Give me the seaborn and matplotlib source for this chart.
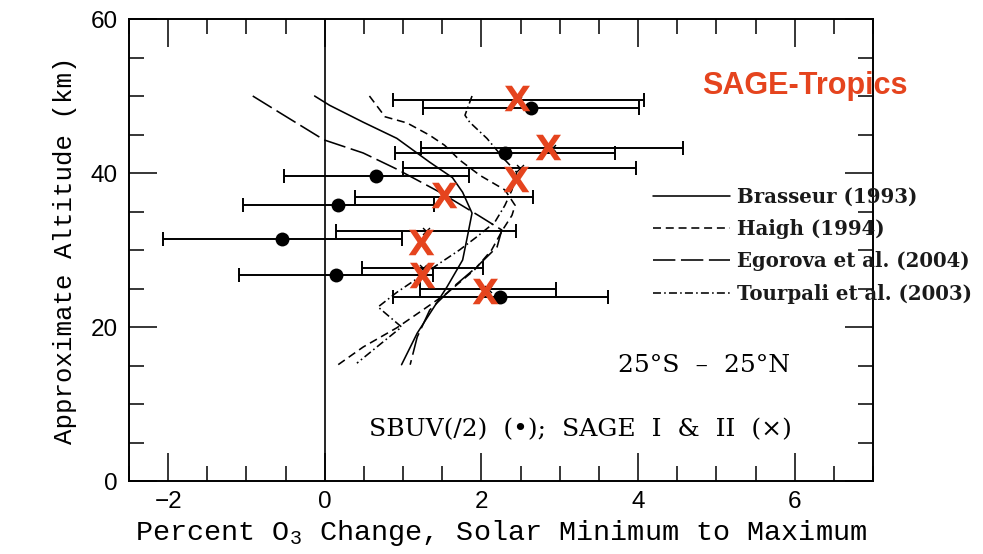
import numpy as np
import pandas as pd
import seaborn as sns
import matplotlib
matplotlib.use("Agg")
import matplotlib.pyplot as plt
from matplotlib.ticker import MultipleLocator

# ---------------- data ----------------
# SBUV(/2) solar-cycle ozone change (dots) with +/- uncertainty
sbuv_alt = [48.4, 42.6, 39.6, 35.8, 31.4, 26.8, 23.9]
sbuv_pct = [2.63, 2.30, 0.66, 0.17, -0.54, 0.14, 2.24]
sbuv_err = [1.38, 1.40, 1.18, 1.22, 1.53, 1.24, 1.37]

# SAGE I & II (small x) with +/- uncertainty
sage_alt = [49.5, 43.3, 40.6, 36.9, 32.5, 27.7, 24.9]
sage_pct = [2.47, 2.90, 2.49, 1.52, 1.29, 1.25, 2.08]
sage_err = [1.60, 1.67, 1.49, 1.14, 1.15, 0.77, 0.87]

# red "X" highlights (SAGE-Tropics overlay)
hl_alt = [49.7, 43.4, 39.2, 37.1, 31.0, 26.8, 24.7]
hl_pct = [2.45, 2.85, 2.44, 1.52, 1.23, 1.24, 2.04]

# model predictions
brasseur_alt = [50.0, 48.8, 46.6, 44.5, 41.4, 39.4, 37.5, 34.8, 32.2, 28.7, 25.2, 19.2, 15.1]
brasseur_pct = [-0.13, 0.06, 0.49, 0.92, 1.34, 1.63, 1.76, 1.88, 1.83, 1.76, 1.56, 1.18, 0.98]

haigh_alt = [50.0, 47.3, 46.5, 44.9, 43.6, 41.7, 39.7, 37.8, 35.8, 34.5, 32.6, 30.0, 27.4, 24.4, 22.2, 19.9, 17.4, 15.1]
haigh_pct = [0.57, 0.77, 1.05, 1.34, 1.53, 1.72, 1.98, 2.30, 2.43, 2.39, 2.27, 2.13, 1.91, 1.56, 1.25, 0.92, 0.49, 0.17]

egorova_alt = [50.0, 47.8, 44.3, 42.6, 40.5, 37.5, 34.5, 32.6, 30.4, 27.8, 25.2, 22.2, 18.7, 15.1]
egorova_pct = [-0.92, -0.57, -0.01, 0.49, 0.92, 1.47, 1.96, 2.26, 2.20, 1.94, 1.64, 1.34, 1.18, 1.09]

tourpali_alt = [50.0, 47.5, 46.6, 44.5, 41.7, 40.1, 37.8, 35.8, 33.6, 31.7, 30.0, 28.3, 26.5, 24.5, 22.6, 20.0, 17.7, 15.3]
tourpali_pct = [1.88, 1.79, 1.85, 2.07, 2.30, 2.45, 2.39, 2.30, 2.17, 1.94, 1.72, 1.47, 1.21, 0.92, 0.68, 0.98, 0.70, 0.41]

x_ticks = [-2, 0, 2, 4, 6]
y_ticks = [0, 20, 40, 60]

# ---------------- style ----------------
sns.set_theme(style="ticks")
plt.rcParams["font.family"] = ["DejaVu Serif"]
plt.rcParams["text.color"] = "black"
plt.rcParams["axes.labelcolor"] = "black"
plt.rcParams["xtick.color"] = "black"
plt.rcParams["ytick.color"] = "black"
RED = "#E5441E"

fig = plt.figure(figsize=(9.83, 5.54), dpi=100)
ax = fig.add_axes([129 / 983, 1 - 481 / 554, 744 / 983, 462 / 554])

models = [
    ("Brasseur (1993)", brasseur_pct, brasseur_alt, "-"),
    ("Haigh (1994)", haigh_pct, haigh_alt, (0, (5, 3))),
    ("Egorova et al. (2004)", egorova_pct, egorova_alt, (0, (14, 3.5))),
    ("Tourpali et al. (2003)", tourpali_pct, tourpali_alt, (0, (5, 2, 1, 2))),
]
for name, xs, ys, ls in models:
    df = pd.DataFrame({"pct": xs, "alt": ys})
    sns.lineplot(data=df, x="pct", y="alt", sort=False, estimator=None,
                 color="black", linewidth=1.15, linestyle=ls, label=name, ax=ax)

# zero line
ax.axvline(0, color="black", linewidth=1.2, zorder=1)

# error bars
ax.errorbar(sbuv_pct, sbuv_alt, xerr=sbuv_err, fmt="none", ecolor="black",
            elinewidth=1.4, capsize=5, capthick=1.4, zorder=3)
ax.errorbar(sage_pct, sage_alt, xerr=sage_err, fmt="none", ecolor="black",
            elinewidth=1.4, capsize=5, capthick=1.4, zorder=3)

sns.scatterplot(x=sbuv_pct, y=sbuv_alt, color="black", s=100, edgecolor="black",
                linewidth=0, zorder=4, ax=ax)
sns.scatterplot(x=sage_pct, y=sage_alt, color="black", marker="x", s=25,
                linewidth=1.0, zorder=4, ax=ax)
sns.scatterplot(x=hl_pct, y=hl_alt, color=RED, marker=r"$\mathbf{X}$", s=340,
                linewidth=0, zorder=5, ax=ax)

# axes
ax.set_xlim(-2.5, 7)
ax.set_ylim(0, 60)
ax.set_xticks(x_ticks)
ax.set_yticks(y_ticks)
ax.set_xticklabels(["\u22122", "0", "2", "4", "6"])
ax.xaxis.set_minor_locator(MultipleLocator(0.5))
ax.yaxis.set_minor_locator(MultipleLocator(5))
ax.tick_params(which="both", direction="in", top=True, right=True, width=1.1, color="black")
ax.tick_params(which="major", length=20)
ax.tick_params(which="minor", length=11)
ax.tick_params(axis="x", which="major", pad=7, labelsize=17.5, labelcolor="black")
ax.tick_params(axis="y", which="major", pad=8, labelsize=17.5, labelcolor="black")
for lab in ax.get_xticklabels() + ax.get_yticklabels():
    lab.set_fontfamily(["Liberation Sans", "DejaVu Sans"])
for sp in ax.spines.values():
    sp.set_linewidth(1.4)
    sp.set_color("black")

ax.set_xlabel("Percent O$_\\mathregular{3}$ Change, Solar Minimum to Maximum",
              fontsize=20.5, family=["Liberation Mono", "DejaVu Sans Mono"], labelpad=4,
              color="black")
ax.set_ylabel("Approximate Altitude (km)", fontsize=18.5,
              family=["Liberation Mono", "DejaVu Sans Mono"], labelpad=10, color="black")

# legend
leg = ax.legend(loc="upper left", bbox_to_anchor=(643 / 983, 1 - 177 / 554),
                bbox_transform=fig.transFigure, frameon=False, handlelength=3.9,
                handletextpad=0.35, labelspacing=0.62, borderpad=0,
                prop={"family": "DejaVu Serif", "weight": "bold", "size": 14.2})
for t in leg.get_texts():
    t.set_color("#1a1a1a")

# annotations
ax.text((805 - 129) / 744, (481 - 86) / 462, "SAGE-Tropics", transform=ax.transAxes,
        ha="center", va="center", color=RED, fontsize=22, fontweight="bold",
        family=["Liberation Sans", "DejaVu Sans"])
ax.text((704 - 129) / 744, (481 - 366) / 462, "25\u00b0S  \u2013  25\u00b0N", transform=ax.transAxes,
        ha="center", va="center", fontsize=18, family="DejaVu Serif")
ax.text((580 - 129) / 744, (481 - 430) / 462, "SBUV(/2)  (\u2022);  SAGE  I  &  II  (\u00d7)",
        transform=ax.transAxes, ha="center", va="center", fontsize=18, family="DejaVu Serif")

fig.savefig("out.png", dpi=100)
